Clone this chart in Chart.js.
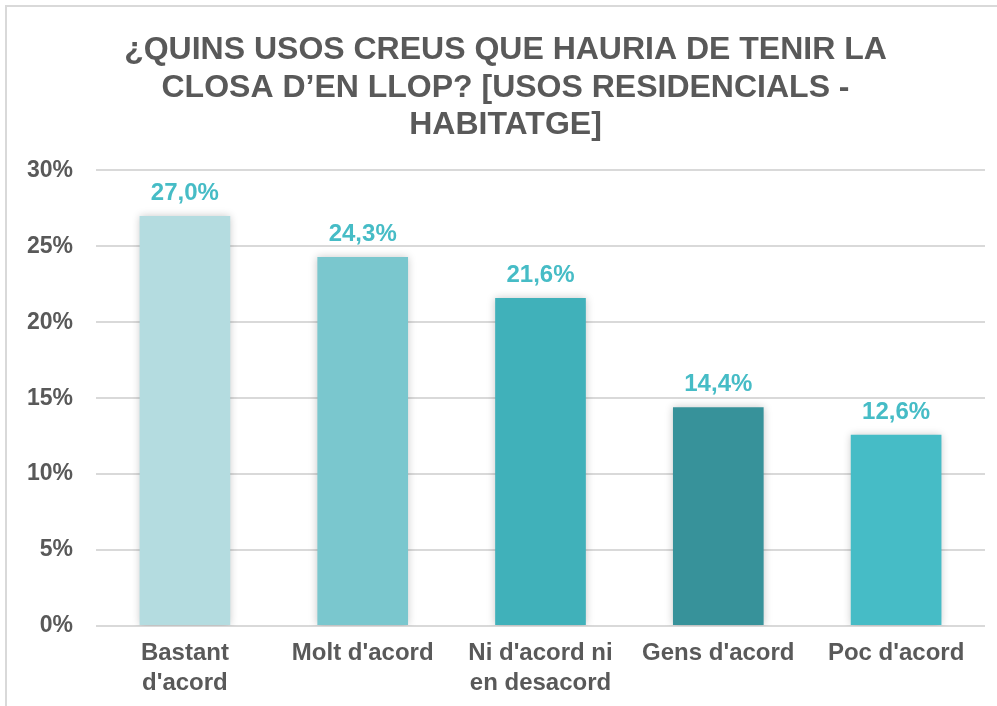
<!DOCTYPE html>
<html>
<head>
<meta charset="utf-8">
<script src="https://cdn.jsdelivr.net/npm/chart.js@4/dist/chart.umd.min.js"></script>
<style>
html,body{margin:0;padding:0;background:#fff;}
#wrap{position:relative;width:997px;height:706px;}
#frame{position:absolute;left:5px;top:5px;right:-10px;bottom:-10px;border-top:2px solid #D9D9D9;border-left:2px solid #D9D9D9;pointer-events:none;}
canvas{position:absolute;left:0;top:0;}
</style>
</head>
<body>
<div id="wrap">
<canvas id="c" width="997" height="706"></canvas>
<div id="frame"></div>
</div>
<script>
const categories = [["Bastant", "d'acord"], ["Molt d'acord"], ["Ni d'acord ni", "en desacord"], ["Gens d'acord"], ["Poc d'acord"]];
const values = [27.0, 24.3, 21.6, 14.4, 12.6];
const barColors = ["#B4DCE0", "#7AC7CE", "#40B1BA", "#37929A", "#46BCC6"];
const titleLines = ["¿QUINS USOS CREUS QUE HAURIA DE TENIR LA", "CLOSA D’EN LLOP? [USOS RESIDENCIALS -", "HABITATGE]"];
const yTicks = [0, 5, 10, 15, 20, 25, 30];

const FONT = "'Liberation Sans', Arial, sans-serif";
const GREY = "#595959";

const shadowPlugin = {
  id: 'shadow',
  beforeDatasetDraw(chart) {
    const ctx = chart.ctx;
    ctx.save();
    ctx.shadowColor = 'rgba(0,0,0,0.22)';
    ctx.shadowBlur = 8;
    ctx.shadowOffsetX = 0;
    ctx.shadowOffsetY = 0;
  },
  afterDatasetDraw(chart) {
    chart.ctx.restore();
  }
};

const labelPlugin = {
  id: 'valueLabels',
  afterDatasetsDraw(chart) {
    const ctx = chart.ctx;
    const meta = chart.getDatasetMeta(0);
    ctx.save();
    ctx.font = "bold 24px " + FONT;
    ctx.fillStyle = "#46BCC6";
    ctx.textAlign = 'center';
    ctx.textBaseline = 'alphabetic';
    meta.data.forEach((bar, i) => {
      const txt = values[i].toFixed(1).replace('.', ',') + '%';
      ctx.fillText(txt, bar.x, bar.y - 16);
    });
    ctx.restore();
  }
};

new Chart(document.getElementById('c'), {
  type: 'bar',
  data: {
    labels: categories,
    datasets: [{
      data: values,
      backgroundColor: barColors,
      borderWidth: 0,
      barPercentage: 0.51,
      categoryPercentage: 1.0
    }]
  },
  options: {
    responsive: false,
    animation: false,
    devicePixelRatio: 1,
    layout: { padding: { left: 26, right: 12, top: 32, bottom: 8 } },
    plugins: {
      legend: { display: false },
      tooltip: { enabled: false },
      title: {
        display: true,
        text: titleLines,
        color: GREY,
        font: { family: FONT, size: 32, weight: 'bold', lineHeight: 1.16 },
        padding: { top: 0, bottom: 27 }
      }
    },
    scales: {
      y: {
        min: 0, max: 30,
        afterFit(scale) { scale.width = 70; },
        afterBuildTicks(scale) { scale.ticks = yTicks.map(v => ({ value: v })); },
        ticks: {
          stepSize: 5,
          padding: 23,
          color: GREY,
          font: { family: FONT, size: 23, weight: 'bold' },
          callback: v => v + '%'
        },
        grid: { color: '#D9D9D9', lineWidth: 2, drawTicks: false },
        border: { display: false }
      },
      x: {
        afterFit(scale) { scale.height = 72; },
        ticks: {
          padding: 12,
          color: GREY,
          maxRotation: 0,
          autoSkip: false,
          font: { family: FONT, size: 24, weight: 'bold', lineHeight: 1.25 }
        },
        grid: { display: false, drawTicks: false },
        border: { display: false }
      }
    }
  },
  plugins: [shadowPlugin, labelPlugin]
});
</script>
</body>
</html>
